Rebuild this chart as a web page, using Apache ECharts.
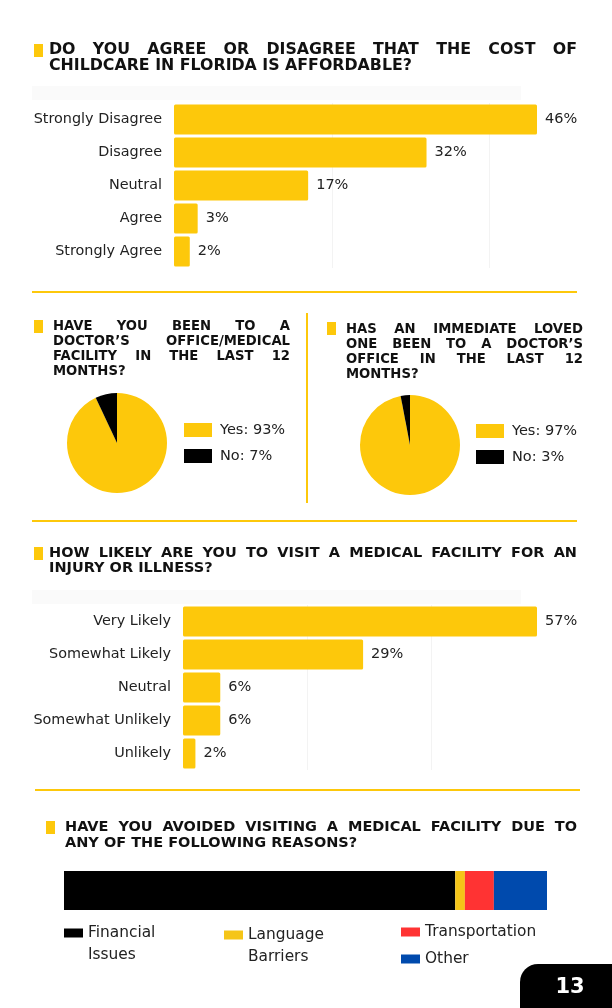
<!DOCTYPE html>
<html><head><meta charset="utf-8">
<script src="https://cdn.jsdelivr.net/npm/echarts@6/dist/echarts.min.js"></script>
<style>html,body{margin:0;padding:0;background:#fff}#c{width:612px;height:1008px}</style>
</head><body><div id="c"></div>
<script>
// ---- data ----
const affordCategories = ['Strongly Disagree','Disagree','Neutral','Agree','Strongly Agree'];
const affordValues = [46, 32, 17, 3, 2];
const likelyCategories = ['Very Likely','Somewhat Likely','Neutral','Somewhat Unlikely','Unlikely'];
const likelyValues = [57, 29, 6, 6, 2];
const pieNames = ['Yes', 'No'];
const selfDoctorValues = [93, 7];
const lovedDoctorValues = [97, 3];
const avoidReasons = ['Financial Issues', 'Language Barriers', 'Transportation', 'Other'];
const avoidValues = [81, 2, 6, 11];

const title1 = ['DO YOU AGREE OR DISAGREE THAT THE COST OF', 'CHILDCARE IN FLORIDA IS AFFORDABLE?'];
const title2 = ['HAVE YOU BEEN TO A', 'DOCTOR\u2019S OFFICE/MEDICAL', 'FACILITY IN THE LAST 12', 'MONTHS?'];
const title3 = ['HAS AN IMMEDIATE LOVED', 'ONE BEEN TO A DOCTOR\u2019S', 'OFFICE IN THE LAST 12', 'MONTHS?'];
const title4 = ['HOW LIKELY ARE YOU TO VISIT A MEDICAL FACILITY FOR AN', 'INJURY OR ILLNESS?'];
const title5 = ['HAVE YOU AVOIDED VISITING A MEDICAL FACILITY DUE TO', 'ANY OF THE FOLLOWING REASONS?'];
const pageNumber = '13';

// ---- styles ----
const YELLOW = '#FDC80B';
const FONT = '"DejaVu Sans", "Open Sans", sans-serif';
const TFONT_FAMILY = '"DejaVu Sans", "Open Sans", sans-serif';
const TEXT = '#222';

const mctx = document.createElement('canvas').getContext('2d');
function titleBlock(lines, x0, x1, yFirst, lineGap, size, markerX, markerY) {
  const font = 'bold ' + size + 'px ' + TFONT_FAMILY;
  mctx.font = font;
  const els = [];
  els.push({type:'rect', shape:{x:markerX, y:markerY, width:9, height:13}, style:{fill:YELLOW}});
  lines.forEach((line, i) => {
    const y = yFirst + i * lineGap;
    const words = line.split(' ');
    const last = i === lines.length - 1;
    if (last || words.length < 2) {
      els.push({type:'text', x:x0, y:y, style:{text:line, font:font, fill:'#111', verticalAlign:'middle'}});
    } else {
      const widths = words.map(w => mctx.measureText(w).width);
      const sum = widths.reduce((a,b)=>a+b,0);
      const gap = (x1 - x0 - sum) / (words.length - 1);
      let x = x0;
      words.forEach((w, k) => {
        els.push({type:'text', x:x, y:y, style:{text:w, font:font, fill:'#111', verticalAlign:'middle'}});
        x += widths[k] + gap;
      });
    }
  });
  return els;
}

const graphics = [].concat(
  titleBlock(title1, 49, 577, 50, 16, 15.8, 34, 44),
  titleBlock(title2, 53, 290, 327, 15, 13.2, 34, 320),
  titleBlock(title3, 346, 583, 330, 15, 13.2, 327, 322),
  titleBlock(title4, 49, 577, 553, 15, 14.5, 34, 547),
  titleBlock(title5, 65, 577, 827, 16, 14.5, 46, 821),
  [
    {type:'rect', shape:{x:32, y:86, width:489, height:14}, style:{fill:'#fafafa'}, z:-1},
    {type:'rect', shape:{x:32, y:590, width:489, height:14}, style:{fill:'#fafafa'}, z:-1},
    {type:'line', shape:{x1:32, y1:292, x2:577, y2:292}, style:{stroke:YELLOW, lineWidth:2}},
    {type:'line', shape:{x1:32, y1:521, x2:577, y2:521}, style:{stroke:YELLOW, lineWidth:2}},
    {type:'line', shape:{x1:35, y1:790, x2:580, y2:790}, style:{stroke:YELLOW, lineWidth:2}},
    {type:'line', shape:{x1:307, y1:313, x2:307, y2:503}, style:{stroke:YELLOW, lineWidth:2}},
    {type:'rect', shape:{x:520, y:964, width:110, height:60, r:[18,0,0,0]}, style:{fill:'#000'}},
    {type:'text', x:570, y:988, style:{text:pageNumber, font:'bold 21px ' + TFONT_FAMILY, fill:'#fff', align:'center', verticalAlign:'middle'}}
  ]
);

const valueLabel = {show:true, position:'right', distance:8, formatter:'{c}%', fontSize:14.5, color:TEXT, fontFamily:FONT};
const catAxis = (data, gi) => ({
  type:'category', gridIndex:gi, data:data, inverse:true,
  axisLine:{show:false}, axisTick:{show:false},
  axisLabel:{fontSize:14.4, color:TEXT, fontFamily:FONT, margin:12}
});
const valAxis = (gi, max) => ({
  type:'value', gridIndex:gi, min:0, max:max, interval:20,
  axisLine:{show:false}, axisTick:{show:false}, axisLabel:{show:false},
  splitLine:{show:true, showMinLine:false, showMaxLine:false, lineStyle:{color:'#f3f3f3', width:1}}
});

const stackColors = ['#000000', '#F5C518', '#FF3333', '#004AAD'];
const stackSeries = avoidReasons.map((r, i) => ({
  type:'bar', name:r, stack:'avoid', xAxisIndex:2, yAxisIndex:2,
  data:[avoidValues[i]], barWidth:39, itemStyle:{color:stackColors[i]}, silent:true
}));

const legendBase = {orient:'vertical', padding:0, icon:'rect', itemWidth:19, itemHeight:9, selectedMode:false,
  textStyle:{fontSize:15.4, color:TEXT, fontFamily:FONT, lineHeight:22}};
const splitName = n => { const p = n.split(' '); return p.length > 1 ? '\n' + p[0] + '\n' + p.slice(1).join(' ') : n; };

const pieLegend = (left, top, vals) => ({
  orient:'vertical', left:left, top:top, padding:0, icon:'rect', itemWidth:28, itemHeight:14, itemGap:8,
  selectedMode:false, data:pieNames.map((n,i)=>({name:n, itemStyle:{color: i===0?YELLOW:'#000'}})),
  formatter: n => n + ': ' + vals[pieNames.indexOf(n)] + '%',
  textStyle:{fontSize:14.5, color:TEXT, fontFamily:FONT, lineHeight:18, padding:[0,0,0,3]}
});

const option = {
  animation:false,
  backgroundColor:'#fff',
  graphic: graphics,
  grid:[
    {left:174, top:103, width:363, height:165},
    {left:183, top:605, width:354, height:165},
    {left:64, top:871, width:483, height:39}
  ],
  xAxis:[
    valAxis(0, 46),
    valAxis(1, 57),
    {type:'value', gridIndex:2, min:0, max:100, show:false}
  ],
  yAxis:[
    catAxis(affordCategories, 0),
    catAxis(likelyCategories, 1),
    {type:'category', gridIndex:2, data:['Avoided'], show:false}
  ],
  legend:[
    pieLegend(184, 421, selfDoctorValues),
    pieLegend(476, 422, lovedDoctorValues),
    Object.assign({}, legendBase, {left:64, top:900, data:[avoidReasons[0]], formatter:splitName}),
    Object.assign({}, legendBase, {left:224, top:902, data:[avoidReasons[1]], formatter:splitName}),
    Object.assign({}, legendBase, {left:401, top:921, data:[avoidReasons[2]]}),
    Object.assign({}, legendBase, {left:401, top:948, data:[avoidReasons[3]]})
  ],
  series:[
    {type:'bar', xAxisIndex:0, yAxisIndex:0, data:affordValues, barWidth:30, itemStyle:{color:YELLOW, borderRadius:1.5}, label:valueLabel, silent:true},
    {type:'bar', xAxisIndex:1, yAxisIndex:1, data:likelyValues, barWidth:30, itemStyle:{color:YELLOW, borderRadius:1.5}, label:valueLabel, silent:true},
    {type:'pie', center:[117,443], radius:50, startAngle:90, clockwise:true, label:{show:false}, labelLine:{show:false}, silent:true,
      data:pieNames.map((n,i)=>({name:n, value:selfDoctorValues[i], itemStyle:{color:i===0?YELLOW:'#000'}}))},
    {type:'pie', center:[410,445], radius:50, startAngle:90, clockwise:true, label:{show:false}, labelLine:{show:false}, silent:true,
      data:pieNames.map((n,i)=>({name:n, value:lovedDoctorValues[i], itemStyle:{color:i===0?YELLOW:'#000'}}))}
  ].concat(stackSeries)
};

const chart = echarts.init(document.getElementById('c'), null, {renderer:'canvas', width:612, height:1008});
chart.setOption(option);
</script>
</body></html>
